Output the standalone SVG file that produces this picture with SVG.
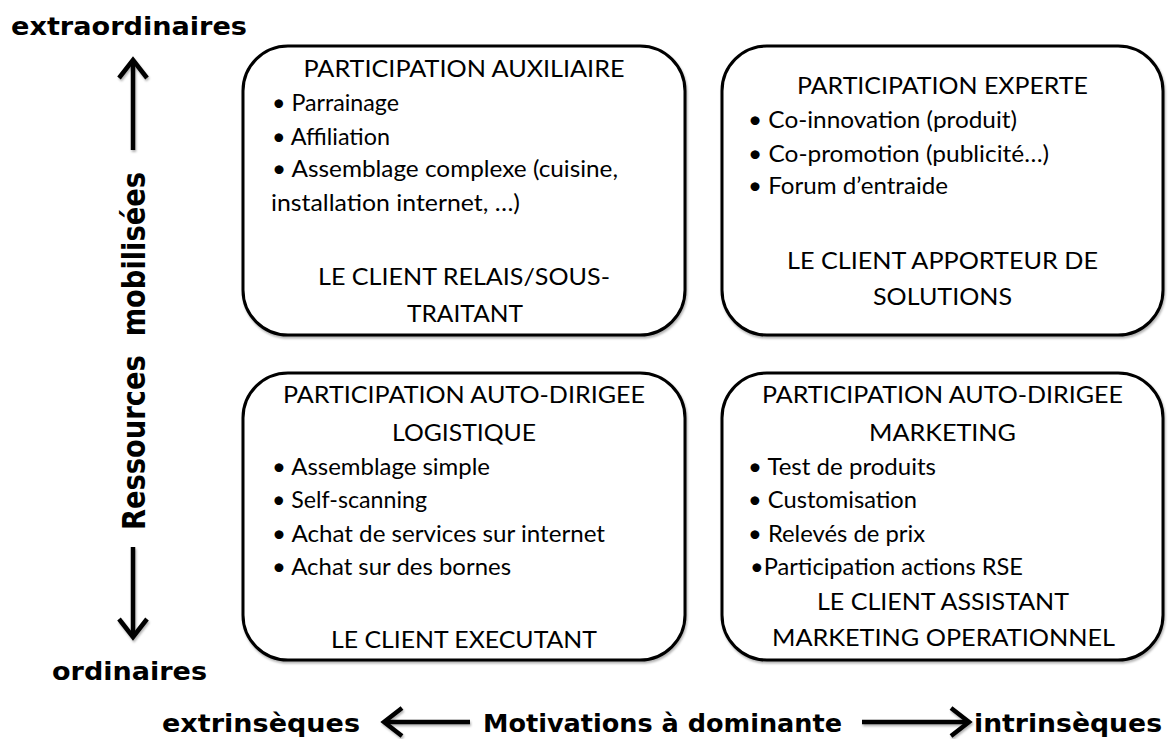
<svg xmlns="http://www.w3.org/2000/svg" width="1174" height="739" viewBox="0 0 1174 739">
<style>
.box{fill:#fff;stroke:#000;stroke-width:3}
.t{font-family:Lato,"Open Sans","Liberation Sans",sans-serif;font-size:24px;fill:#000}
.c{text-anchor:middle}
.ax{font-family:"DejaVu Sans","Liberation Sans",sans-serif;font-weight:bold;font-size:25px;fill:#000}
.axv{font-family:"DejaVu Sans","Liberation Sans",sans-serif;font-weight:bold;font-size:32px;fill:#000}
.ln{fill:none;stroke:#000;stroke-width:4.5;stroke-linecap:butt}
.hd{fill:none;stroke:#000;stroke-width:4.5;stroke-linejoin:miter;stroke-linecap:butt}
</style>
<defs>
<filter id="sh" x="-10%" y="-10%" width="120%" height="130%">
<feDropShadow dx="1" dy="2" stdDeviation="1.2" flood-color="#000" flood-opacity="0.3"/>
</filter>
</defs>

<g id="axes" filter="url(#sh)">
<path class="ln" d="M133,60 V150"/>
<path class="hd" d="M119,78 L133,60 L147,78"/>
<path class="ln" d="M133,547 V637"/>
<path class="hd" d="M119,619 L133,637 L147,619"/>
<path class="ln" d="M384,722 H470"/>
<path class="hd" d="M402,708 L384,722 L402,736"/>
<path class="ln" d="M862,722 H969"/>
<path class="hd" d="M951,708 L969,722 L951,736"/>
</g>

<g id="labels">
<text class="ax" x="11" y="35" textLength="236" lengthAdjust="spacingAndGlyphs">extraordinaires</text>
<text class="ax" x="52" y="680" textLength="155" lengthAdjust="spacingAndGlyphs">ordinaires</text>
<text class="axv" transform="translate(145,351) rotate(-90)" x="0" y="0" text-anchor="middle" textLength="358" lengthAdjust="spacingAndGlyphs" xml:space="preserve">Ressources  mobilisées</text>
<text class="ax" x="162" y="732" textLength="198" lengthAdjust="spacingAndGlyphs">extrinsèques</text>
<text class="ax" x="483" y="732" textLength="359" lengthAdjust="spacingAndGlyphs">Motivations à dominante</text>
<text class="ax" x="974" y="732" textLength="188" lengthAdjust="spacingAndGlyphs">intrinsèques</text>
</g>

<g id="box1">
<rect class="box" x="243" y="46" width="442" height="289" rx="45" ry="45" filter="url(#sh)"/>
<text class="t c" x="464" y="77" textLength="321" lengthAdjust="spacingAndGlyphs">PARTICIPATION AUXILIAIRE</text>
<text class="t" x="272" y="111" textLength="127" lengthAdjust="spacingAndGlyphs">• Parrainage</text>
<text class="t" x="272" y="145" textLength="118" lengthAdjust="spacingAndGlyphs">• Affiliation</text>
<text class="t" x="272" y="177" textLength="346" lengthAdjust="spacingAndGlyphs">• Assemblage complexe (cuisine,</text>
<text class="t" x="271" y="211" textLength="249" lengthAdjust="spacingAndGlyphs">installation internet, …)</text>
<text class="t c" x="464" y="285" textLength="292" lengthAdjust="spacingAndGlyphs">LE CLIENT RELAIS/SOUS-</text>
<text class="t c" x="465" y="322" textLength="116" lengthAdjust="spacingAndGlyphs">TRAITANT</text>
</g>

<g id="box2">
<rect class="box" x="722" y="46" width="441" height="289" rx="45" ry="45" filter="url(#sh)"/>
<text class="t c" x="942.5" y="94" textLength="291" lengthAdjust="spacingAndGlyphs">PARTICIPATION EXPERTE</text>
<text class="t" x="748" y="128" textLength="269" lengthAdjust="spacingAndGlyphs">• Co-innovation (produit)</text>
<text class="t" x="748" y="162" textLength="301" lengthAdjust="spacingAndGlyphs">• Co-promotion (publicité…)</text>
<text class="t" x="748" y="194" textLength="200" lengthAdjust="spacingAndGlyphs">• Forum d’entraide</text>
<text class="t c" x="942.5" y="269" textLength="311" lengthAdjust="spacingAndGlyphs">LE CLIENT APPORTEUR DE</text>
<text class="t c" x="942.5" y="305" textLength="139" lengthAdjust="spacingAndGlyphs">SOLUTIONS</text>
</g>

<g id="box3">
<rect class="box" x="243" y="373" width="442" height="287" rx="45" ry="45" filter="url(#sh)"/>
<text class="t c" x="464" y="403" textLength="362" lengthAdjust="spacingAndGlyphs">PARTICIPATION AUTO-DIRIGEE</text>
<text class="t c" x="464" y="441" textLength="144" lengthAdjust="spacingAndGlyphs">LOGISTIQUE</text>
<text class="t" x="272" y="475" textLength="218" lengthAdjust="spacingAndGlyphs">• Assemblage simple</text>
<text class="t" x="272" y="508" textLength="155" lengthAdjust="spacingAndGlyphs">• Self-scanning</text>
<text class="t" x="272" y="542" textLength="333" lengthAdjust="spacingAndGlyphs">• Achat de services sur internet</text>
<text class="t" x="272" y="575" textLength="239" lengthAdjust="spacingAndGlyphs">• Achat sur des bornes</text>
<text class="t c" x="464" y="648" textLength="266" lengthAdjust="spacingAndGlyphs">LE CLIENT EXECUTANT</text>
</g>

<g id="box4">
<rect class="box" x="722" y="373" width="441" height="287" rx="45" ry="45" filter="url(#sh)"/>
<text class="t c" x="942.5" y="403" textLength="361" lengthAdjust="spacingAndGlyphs">PARTICIPATION AUTO-DIRIGEE</text>
<text class="t c" x="942.5" y="441" textLength="147" lengthAdjust="spacingAndGlyphs">MARKETING</text>
<text class="t" x="748" y="475" textLength="188" lengthAdjust="spacingAndGlyphs">• Test de produits</text>
<text class="t" x="748" y="508" textLength="169" lengthAdjust="spacingAndGlyphs">• Customisation</text>
<text class="t" x="748" y="542" textLength="177" lengthAdjust="spacingAndGlyphs">• Relevés de prix</text>
<text class="t" x="750" y="575" textLength="273" lengthAdjust="spacingAndGlyphs">•Participation actions RSE</text>
<text class="t c" x="943" y="610" textLength="252" lengthAdjust="spacingAndGlyphs">LE CLIENT ASSISTANT</text>
<text class="t c" x="943.5" y="646" textLength="343" lengthAdjust="spacingAndGlyphs">MARKETING OPERATIONNEL</text>
</g>
</svg>
